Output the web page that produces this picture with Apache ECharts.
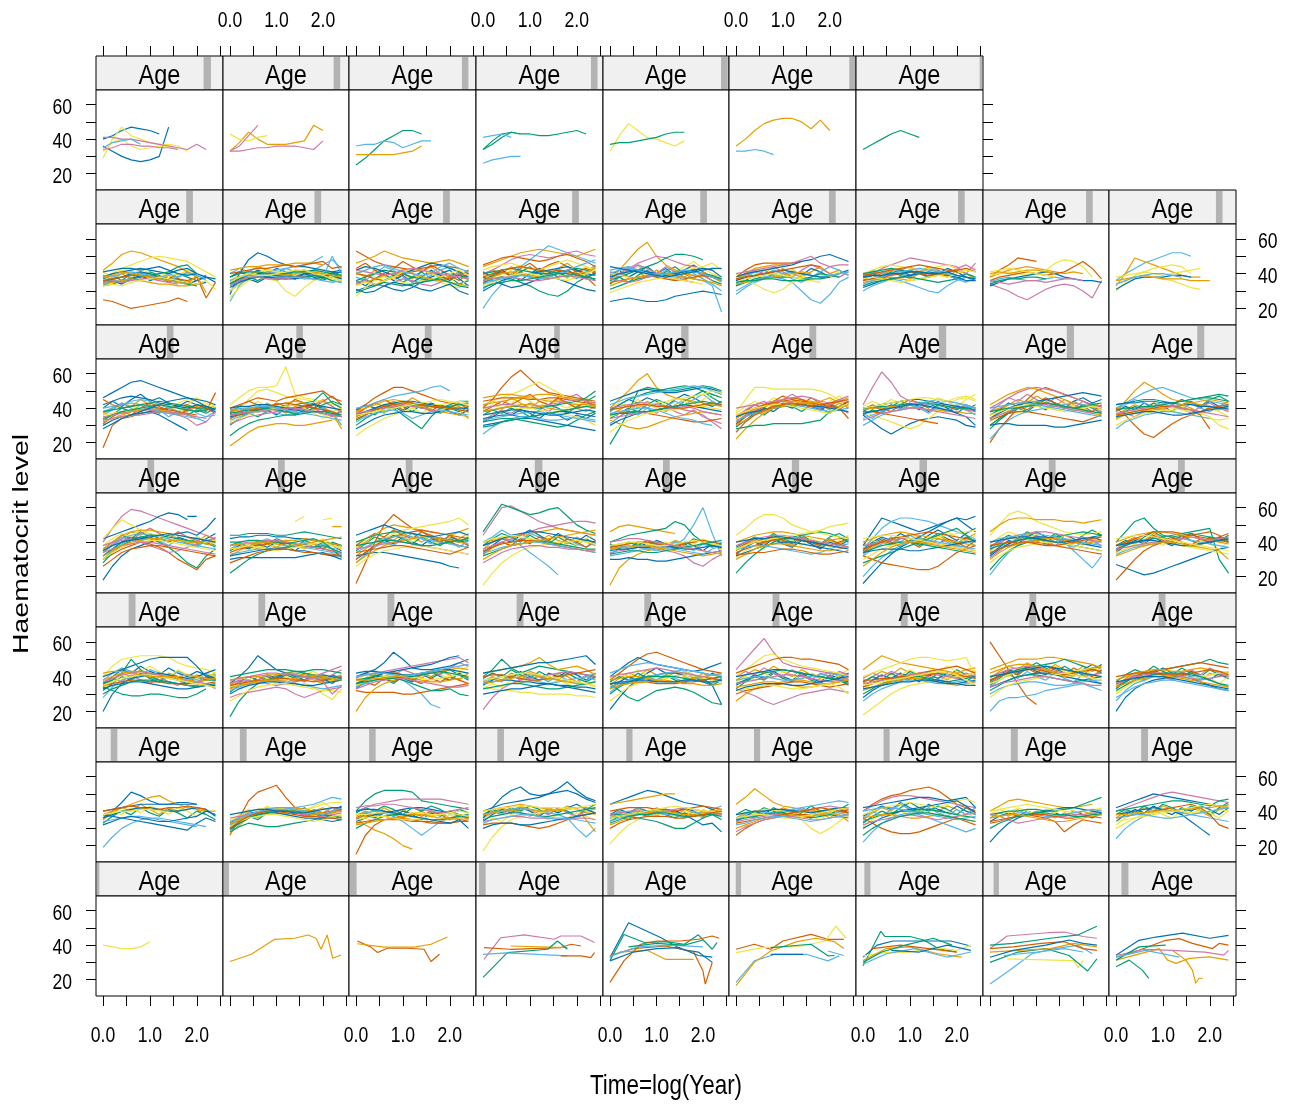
<!DOCTYPE html>
<html>
<head>
<meta charset="utf-8">
<title>Haematocrit level by log(Year), conditioned on Age</title>
<script src="https://cdn.jsdelivr.net/npm/echarts@6.0.0/dist/echarts.min.js"></script>
<style>
  html, body { margin: 0; padding: 0; background: #fff; }
  #chart { width: 1293px; height: 1106px; }
</style>
</head>
<body>
<div id="chart"></div>
<script>
// line strings: colour letter + first slot on the 0.2 time grid, then the values;
// 'c@' strings give explicit time:value pairs instead
const timeStep = 0.2;
const xTicks = [0, 0.5, 1, 1.5, 2, 2.5];
const xLabels = [0, 1, 2];
const yTicks = [20, 30, 40, 50, 60];
const yLabels = [20, 40, 60];
const colours = { b: '#0072B2', o: '#E69F00', g: '#009E73', y: '#F0E442', s: '#56B4E9', r: '#D55E00', p: '#CC79A7' };

// Age shingle level of each panel, in % of the age range (rows top to bottom)
const ageRow1 = [[84.7, 90.5], [87.8, 93], [88.9, 94], [90.5, 95.7], [93.7, 99], [94.7, 100], [97.4, 100]];
const ageRow2 = [[71, 76.3], [72.6, 77.9], [74.1, 79.4], [75.7, 81], [77.2, 82.5], [78.7, 84], [80.3, 85.6], [81.8, 87.1], [84.2, 89.4]];
const ageRow3 = [[55.8, 61], [58.2, 63.4], [59.7, 65], [61.6, 66], [62, 67.9], [63.3, 68.7], [65.2, 71], [66.5, 72.2], [69.5, 75]];
const ageRow4 = [[40.5, 45.8], [43.7, 49], [44.7, 50], [46.3, 52.3], [47.6, 53], [49.5, 55.2], [50, 55.9], [52.2, 57.6], [54.3, 59.7]];
const ageRow5 = [[25.7, 31.1], [28.1, 33.5], [30.3, 35.7], [32, 37.4], [32.8, 38.2], [34.3, 39.7], [35.3, 40.7], [36.8, 42.2], [39.1, 44.5]];
const ageRow6 = [[11.6, 16.8], [13.4, 18.7], [15.8, 21], [16.8, 22], [18.5, 23.4], [19.7, 24.5], [21.7, 26.5], [22.1, 27.6], [25.3, 30.7]];
const ageRow7 = [[0, 2.6], [0.2, 4.7], [0.8, 6], [2.4, 7.6], [3.4, 8.9], [5.3, 9.5], [6.6, 11.4], [8.4, 12.6], [9.8, 15.3]];

const row1 = [
  ['b0 40 42 45 47 46 45 43', 'b0 36 33 30 28 27 28 30 47', 'y0 29 40 47 42 40 38 37 37 36 33',
   'y0 33 38 40 36 34 35 36 36 34', 'p0 41 41 40 40 39 38 37 36 35 34 37 34', 'p0 34 35 37 37 36 36 35 35 34',
   's0 35 38 39 40 37'],
  ['o0 33 38 44 40 37 37 37 38 39 48 45', 'y0 43 40 39 41 42', 'p0 33 36 42 48', 'p0 33 33 34 35 35 36 36 36 35 34 39'],
  ['g0 25 29 34 39 42 45 45 43', 's0 36 37 37 39 38 35 37 39 39', 'o0 31 31 31 31 31 32 33 36'],
  ['g0 34 37 41 44 43 43 42 42 43 44 45 43', 'g0 34 39 43 44 43', 's0 41 42 43 41', 's0 26 28 29 30 30'],
  ['y0 33 42 49 45 41 40 38 36 39', 'g0 37 38 38 39 40 41 43 44 44'],
  ['o0 36 40 45 49 51 52 52 50 46 51 45', 's0 33 33 34 33 31'],
  ['g0 34 37 40 43 45 43 41']
];

const row2 = [
  ['o0 42 46 51 53 52 50 48 46 44 41 38', 'r0 25 24 22 20 21 22 23 24 26 24', 'y0 38 40 43 45 47 49 50 49 48 47 44 41 38',
   'b0 38 40 41 42 43 42 41 40 42 43 40 38 37', 'b0 36 37 38 40 41 40 38 37 36 35 34 35', 'g0 35 37 38 39 40 39 38 36 35 34 33',
   'g0 33 34 36 37 38 39 40 41 44 45 40', 'r0 36 37 38 39 39 38 38 37 37 36 38 26 35', 'o0 34 35 36 37 36 35 34 34 33 33 34',
   's0 39 38 40 41 40 39 37 36 38 40 39 37', 'p0 35 36 35 36 37 37 36 35 34', 'y0 33 34 33 35 36 37 38 37 36 35 34 36 31',
   'b0 41 42 43 43 42 43 44 42 40 39 40', 'o0 38 39 41 40 39 38 37 36 35 34 39 29'],
  ['b0 28 40 48 52 50 47 45 44 44 43 42 41 42', 's0 24 33 38 40 41 42 43 44 45 47 50', 's0 30 35 38 39 40 41 40 42 41 39 38 50 40',
   'y0 26 32 36 38 37 36 30 27 32 36 38 40 39', 'o0 42 43 44 44 45 45 45 46 46 46 45', 'r0 40 41 42 43 43 44 45 44 45 46 47 43 44',
   'b0 34 37 39 40 40 39 38 39 40 40 39 38 37', 'g0 35 36 37 38 38 37 37 38 38 39 38 36 35', 'y0 30 34 38 41 42 41 40 39 41 42 40 38 36',
   'b0 32 35 37 38 38 38 37 37 38 37 38 40 41', 'o0 36 38 40 41 40 40 39 40 41 41 40 39 38', 'p0 33 36 38 38 37 37 37 38 38 37',
   's0 36 38 39 39 39 38 38 38 37 37 36 35 36', 'g0 38 40 41 41 40 40 40 41 41 42 41 40 39', 'y0 35 38 40 39 39 40 41 42 42 40 39 37 36'],
  ['r0 53 50 47 45 44 43 42 43 44 45 44 43', 'o0 46 48 50 53 51 49 48 47 46 47 48 46 44', 'b0 30 32 34 33 31 30 32 35 38 40 42 37 33',
   's0 38 36 40 44 42 38 35 36 39 42 44 40 36', 'y0 27 32 36 38 37 35 34 36 37 35 33 32 38', 'g0 36 38 40 42 41 40 38 37 36 38 40 39 37',
   'p0 35 36 34 33 35 37 36 34 33 35 38 40 41', 'b0 42 44 43 41 39 40 42 44 46 45 43 41 40', 'r0 40 39 37 36 38 40 41 42 40 38 37 39 42',
   'o0 34 35 37 39 40 41 40 38 37 36 35 34 33', 'y0 33 35 34 36 38 41 43 42 40 38 40 42 39', 'b0 31 29 30 33 35 34 33 31 30 32 34 30 28',
   's0 40 42 44 45 43 41 40 39 40 44 46 43 41', 'g0 29 31 33 35 34 33 34 35 36 37 35 33 32', 'p0 42 41 40 39 40 42 43 42 41 40 39 38 37'],
  ['s0 20 28 34 40 44 48 52 56 54 52 50 48 46', 'o0 44 46 48 50 52 53 54 53 52 51 50 52 54', 'p0 40 42 45 48 50 51 50 49 50 52 53 51 50',
   'r0 45 47 49 50 49 48 47 48 50 51 49 47 44', 'g0 35 37 38 37 35 33 30 28 27 30 35 38 40', 'b0 38 36 34 32 33 35 37 38 37 35 33 31 30',
   'y0 42 44 45 46 44 43 42 44 46 48 46 44 42', 'g0 40 41 42 43 42 41 40 40 41 42 43 42 41', 'b0 30 33 36 38 39 40 41 42 43 44 42 40 39',
   'o0 36 38 40 41 40 39 38 37 38 39 40 41 43', 'y0 33 35 37 39 40 40 39 38 37 36 38 40 42', 's0 34 36 37 38 39 38 37 38 40 42 44 46 48',
   'r0 38 40 42 43 44 43 42 41 42 41 40 38 33', 'p0 36 37 38 38 37 36 36 37 38 39 38 37 36', 'g0 32 34 35 36 36 37 38 39 40 40 39 38 37'],
  ['b0 24 25 26 25 24 24 25 27 28 29 30 29 28', 'o0 36 42 48 54 58 50 45 42 40 39 38', 'p0 38 40 43 46 48 50 49 47 45 44 43 42',
   'g0 36 38 40 42 44 46 49 51 51 50 48', 's0 40 42 43 42 41 40 39 38 38 37 36 33 18', 'y0 40 39 38 37 38 39 40 41 42 43 44 46 42',
   'b0 38 40 41 42 41 40 39 40 41 42 43 42 38', 'r0 35 36 37 38 39 38 37 36 37 38 39 38 37', 'o0 33 35 37 38 39 40 40 39 38 37 36 35 33',
   'g0 31 33 35 37 38 39 40 41 42 41 40 39 37', 's0 42 43 44 42 40 39 40 41 42 41 40 38 36', 'p0 37 36 35 36 38 39 38 37 36 35',
   'y0 29 31 33 35 36 37 38 37 36 35 34', 'b0 44 43 42 41 40 39 38 39 40 41 42 43 43'],
  ['r0 38 42 45 46 46 46 46 47', 'o0 36 40 43 44 45 45 46', 'b0 38 40 41 42 43 44 45 47 48 50 51 49 47',
   'p0 40 41 42 43 44 45 46 48 50 46 44 45 45', 's0 28 32 35 37 38 37 35 30 25 23 28 35 38', 'y0 38 36 34 31 29 31 35 37 36 35',
   'g0 33 35 37 38 38 38 38 37 38 40 39 38', 's0 30 33 36 38 39 40 41 40 39 38 39 40 41', 'b0 36 38 39 40 41 42 41 40 39 38 38',
   'o0 34 35 36 37 38 39 40 41 40', 'y0 35 37 38 39 40 39 38 37 36', 'g0 35 36 36 37 37 36 36 36 37 37 38',
   'r0 37 38 39 40 41 42 43 44 45 44'],
  ['p0 38 40 43 45 47 49 48 47 46 45 44 40 46', 'y0 40 42 44 45 44 43 42 43 44 45 43', 's0 30 33 35 37 36 34 32 30 29 33 36 38',
   'b0 32 34 36 37 38 39 40 41 40 39 38 36 36', 'g0 40 41 42 43 42 41 41 40 40 39', 'r0 36 37 38 39 40 41 40 39 40 41 42 43 41',
   'o0 35 36 37 38 37 36 37 38 39 40 39', 's0 34 36 38 40 41 42 43 42 41 40 39 38', 'y0 37 38 37 36 35 36 37 38 39 38 40 42 41',
   'b0 38 39 39 40 40 41 41 40 40 41 39 38 37', 'g0 33 35 36 37 38 38 37 36 35 36 37', 'r0 39 40 41 42 43 44 45 44 43 42 41'],
  ['r0 38 42 45 49 48 47', 'o0 38 40 42 43 44 43 42 41 40 41 40', 'y0 39 40 41 40 39 40 42 46 48 47 44 38',
   'r0 36 38 39 40 41 40 39 40 41 44 47 43 37', 'p0 34 32 30 27 25 28 31 33 34 33 30 26 36', 'b0 33 35 37 38 39 40 41 40 38 37 36 36 35',
   's0 35 37 38 37 36 36 37 38 37', 'p0 36 35 34 35 36 36 35 36 37 37 36', 'o0 40 41 40 41 42 42 41 40',
   'g0 34 36 37 37 38 38 37', 'y0 41 42 43 42 41 40 39 38'],
  ['s0 36 40 43 46 48 50 52 52 50', 'o0 33 40 49 47 45 43 41 39 38 38', 'y0 30 35 39 41 43 44 45 44 40',
   'b0 31 34 37 38 38 38 39 39 38', 'y0 34 36 38 39 38 37 36 34 32 31', 'o0 36 37 38 39 38 37 37 37 36 36 36',
   'y0 38 39 40 41 40 39 40 41 42 43', 's0 34 36 38 39 40 40 39 38']
];

const row3 = [
  ['b0 46 49 52 55 56 54 52 50 48 46 45 44 42', 'r0 17 30 34 35 37 38 39 40 41 42 40 38 49', 'b0 42 44 46 47 46 45 43 42 41 40 42 41 40',
   's0 38 40 42 44 45 44 42 40 38 36 34 32', 'r0 45 42 40 41 42 41 40 39 38 37 36', 'y0 36 37 38 39 40 41 42 41 43 45 44 42 40',
   'g0 34 36 38 39 40 41 42 41 40 39 38 39 40', 'p0 35 36 37 38 39 39 38 37 36 34 30 32 38', 'b0 30 33 35 36 37 38 36 33 30 27',
   'o0 32 34 36 38 39 40 39 38 37 36 35', 's0 40 41 42 43 42 40 38 37 36 35 34 35 36', 'g0 38 39 40 41 42 43 44 43 42 41 40 40',
   'p0 33 34 35 36 36 37 38 38 37 36 35 34', 'b0 28 31 34 36 38 40 42 44 45 46 44 41 39'],
  ['y0 42 46 50 52 52 53 64 48 46 45 44 43', 'y0 36 40 45 50 51 49 47 46 45 44 43 42 41', 'o0 18 22 26 29 30 31 31 30 30 31 32 33',
   'r0 40 42 44 46 45 44 46 47 48 49 50 46 44', 'g0 36 37 38 39 40 40 41 42 43 44 49 43 40', 'b0 35 36 37 38 39 40 40 39 38 38 37 36 35',
   's0 33 35 37 38 38 37 36 37 38 39 40 38 30', 'p0 31 33 35 36 37 38 38 39 40 42 44 41 37', 'o0 38 39 40 40 41 42 43 44 43 42 41 37 28',
   'g0 37 38 39 39 40 39 38 37 38 40 42 44 42', 'y0 32 34 36 38 39 40 41 42 40 37 34 38 40', 'b0 40 41 41 42 42 41 40 40 41 42 41 40 39',
   'r0 34 36 38 40 41 42 43 42 41 40 39 38 36', 's0 39 40 40 41 41 40 39 38 37 36 35 34 33', 'p0 36 37 38 38 39 39 40 40 39 38 37 36 35',
   'g0 24 28 31 33 34 35 36 36 37 38 38 37 36'],
  ['r0 38 42 46 49 52 52 50 48 46 44 43 42 41', 's0 40 41 43 45 47 48 49 50 52 53 50', 'g0 33 36 40 42 40 36 32 28 35 40 42 44 44',
   'y0 24 28 31 34 36 38 40 41 42 42 43 44 43', 'o0 38 40 42 44 45 44 43 42 41 40 40 39 34', 'b0 36 38 40 42 43 44 44 43 42 41 40 40 40',
   'o0 35 37 39 41 42 43 42 41 39 38 37 36 35', 'g0 30 34 37 39 40 41 42 42 41 40 41 42 43', 's0 32 35 37 38 39 37 34 36 38 39 38 37 36',
   'p0 37 38 39 40 41 42 41 40 39 38', 'r0 34 36 39 41 42 43 43 42 41 41 40 39 38', 'b0 28 31 34 36 37 38 38 37 37 38',
   'y0 36 37 38 39 40 41 42 43 44 45 44 43 42'],
  ['r0 40 45 52 58 62 57 52 49 48 47 46 45 44', 'y0 42 44 46 48 50 53 55 52 49 46 44 42 40', 'o0 46 47 48 48 47 47 48 48 47 46 45 44 43',
   'r0 44 45 46 46 46 45 45 46 46 45 44 43 42', 'o0 42 43 44 45 46 46 45 44 44 43 42 42 41', 'g0 38 39 40 41 41 40 40 41 42 43 44 46 50',
   'b0 34 35 36 36 35 35 36 37 38 38 37 36 35', 's0 25 29 32 34 35 35 34 33 33 34 35 34 33', 'g0 32 33 34 34 33 32 31 30 29 30 33 36 38',
   'b0 30 31 32 33 34 34 33 32 31 30 29 28 27', 'p0 40 41 42 42 41 40 41 42 43 44 45 44 43', 'y0 36 37 38 39 40 40 39 38 37 36 35 33 30',
   's0 33 34 35 36 37 38 38 37 36 35 34 33 32', 'o0 38 39 40 41 42 42 41 40 39 39 40 41 42', 'g0 29 30 32 33 34 35 36 37 38 39 40 41 40',
   'b0 36 37 38 39 39 38 37 36 36 37 38 39 38'],
  ['o0 40 45 50 56 60 52 48 46 45 44 43 42 41', 'g0 19 28 38 50 52 51 50 50 51 52 53 52 50', 'g0 38 42 45 47 49 50 51 52 53 52 50 48 46',
   'b0 44 46 48 50 51 50 49 49 50 51 52 51 49', 's0 42 44 46 47 48 49 50 51 52 53 52 50 48', 'p0 40 41 42 43 43 42 41 40 39 38 36 32 28',
   'o0 33 31 29 28 29 31 33 35 36 37 38 37 36', 'y0 35 37 39 41 42 43 44 45 46 47 48 50 49', 'r0 36 37 38 38 37 36 35 34 33 32 32 33 34',
   'b0 30 33 35 37 38 39 40 41 42 41 40 39 38', 's0 37 38 39 40 40 39 37 35 34 33 31 30', 'p0 34 35 36 37 38 38 39 40 41 40 38 37 36',
   'g0 36 37 37 38 38 39 40 41 42 43 44 43 42', 'y0 26 30 33 35 37 38 39 39 40 41 41 40 39', 'r0 39 40 41 42 42 41 41 40 40 41 42 43 42'],
  ['y0 38 45 52 52 51 51 51 51 51 50 48 45', 'o0 22 28 33 37 40 42 44 45 44 43 42 44 46', 'r0 30 35 38 41 43 45 46 45 43 40 42 44 43',
   'p0 32 36 39 42 44 45 46 47 46 44 43 45 44', 'g0 28 29 30 30 31 31 31 31 32 33 38 39', 'o0 34 37 40 42 43 44 44 43 42 41 40 41 42',
   'r0 36 38 40 42 43 44 45 44 43 42 41 40 34', 'p0 40 41 42 43 44 44 43 42 41 40 42 45 47', 's0 33 35 37 39 40 41 42 41 40 39 38 39 40',
   'b0 35 37 38 39 40 41 42 42 41 41 40 39 38', 'o0 30 33 36 38 40 41 42 43 43 44 46 43 40', 'y0 36 38 40 41 42 42 41 40 39 38 37 40 43',
   'r0 26 32 36 39 41 42 43 42 41 42 43 44 45'],
  ['p0 42 52 61 55 47 44 43 42 42 41 40 39 38', 'b0 36 32 28 25 28 31 33 34 35 34 33 30 29', 'y0 38 36 34 32 30 28 30 34 38 42 45 46 44',
   'b0 40 41 42 43 44 45 45 44 43 42 41 40 39', 'g0 40 40 41 41 42 42 43 43 42 41 40 40 39', 's0 34 36 38 40 41 42 43 44 45 44 43 42 40',
   'r0 38 38 37 36 35 34 33 32 31', 'o0 39 40 40 41 41 40 40 39 39 38 38 37 37', 's0 30 33 36 38 39 40 41 42 43 44 43 41 40',
   'y0 40 41 42 43 44 45 46 46 45 44 46 47 45', 'b0 37 38 39 40 41 42 42 41 40 39 37 35 30', 'p0 33 35 37 38 39 40 40 39 38 37 36 35 34'],
  ['r0 20 28 34 40 45 50 52 50 48 46 44 42 40', 'p0 38 42 46 49 51 52 51 50 48 46 44 42 41', 'o0 42 45 48 50 52 51 49 47 45 43 42 41 40',
   'b0 34 37 40 42 43 44 45 46 47 48 49 48 47', 'g0 30 34 37 40 42 43 43 42 41 40 41 42 43', 's0 22 28 33 36 38 39 40 41 42 43 42 41 40',
   'y0 36 38 40 41 42 41 40 39 38 39 40 41 40', 'r0 33 35 37 38 38 37 36 35 34 33 32 34 36', 'b0 30 31 31 30 30 30 30 29 29 30 31 32 33',
   'o0 38 40 42 43 44 44 43 42 41 40 39 37 36', 'p0 34 36 38 40 41 42 42 41 40 39 38 37 38', 'g0 38 39 40 40 41 42 43 42 41 40 39 38 37',
   's0 40 41 42 43 43 42 41 40 39 38 37 36 35'],
  ['o0 38 44 50 55 52 48 45 44 43 42 41 40 39', 's0 40 43 46 49 51 52 50 48 46 45 44 43 42', 'r0 40 36 30 25 23 27 31 34 36 38 40 41 42',
   'y0 36 37 38 39 40 41 40 39 38 37 35 30 28', 'g0 42 43 44 45 45 44 43 44 45 46 47 48 47', 'b0 42 43 43 44 44 43 43 42 42 41 41 40 40',
   'y0 30 33 35 37 38 39 38 37 36 35 34 33 34', 'o0 34 36 37 38 39 40 41 42 43 44 45 44 43', 'r0 36 37 38 39 40 41 41 40 39 36 28',
   'p0 37 38 39 40 41 42 41 40 39 38 37 36 35', 's0 28 32 34 36 37 38 38 37 36 35 34', 'g0 39 40 40 41 41 42 43 44 45 46 46 45 44',
   'b0 35 36 37 38 38 37 36 36 37 38 39 40 41']
];

const row4 = [
  ['p0 40 48 55 59 58 56 54 52 50 48 46 44 42', 'b0 42 44 46 48 50 52 55 57 56 53', 'b0 18 26 32 36 38 40 42 44 45 46 44 48 54',
   'y0 42 48 53 50 47 45 44 42 41 40 39 40 41', 'r0 30 33 36 38 40 39 37 34 30 27 24 30 32', 'g0 32 36 40 42 43 42 40 37 33 28 25 32 36',
   'o0 36 40 44 46 47 47 46 45 44 43 42 41 40', 's0 34 38 42 44 45 44 43 42 40 39 38 37 36', 'p0 38 40 41 42 40 38 36 34 35 37 39 41 42',
   'g0 28 34 38 41 43 44 44 43 42 41 40 39 38', 'b0 35 38 40 41 42 43 44 45 44 43 42 41 40', 'r0 26 30 34 36 37 38 38 37 36 35 34 33 32',
   'y0 30 34 37 39 40 41 41 40 39 38 37 36 35', 'p0 34 36 38 39 40 40 39 38 37 36 35 34 33', 'o0 32 35 38 40 41 42 42 41 41 40 40 39 38',
   'b9 55 55'],
  ['g0 44 44 45 45 45 44 44 45 46 45 44 43 42', 'b0 42 43 43 44 44 43 43 42 42 41 40 39 38', 'r0 34 36 37 38 39 40 40 39 38 37 36 35 33',
   'o0 36 37 38 39 40 40 41 41 42 41 40 39 38', 'b0 30 31 31 31 31 31 31 31 32 33 34 32 30', 's0 33 34 35 36 36 37 37 38 37 36 35 34 33',
   'g0 22 26 30 33 35 36 37 38 38 37 38 36 31', 'p0 38 39 40 40 41 41 40 39 38 37 36 35 34', 'y0 36 37 38 37 36 35 36 37 38 39 40 38 36',
   'b0 32 33 34 35 36 36 36 35 35 34 33 32 32', 'g0 40 40 41 41 40 40 39 40 41 42 40 36 34', 'o0 38 39 39 40 40 39 38 38 39 40 41 42 43',
   'y7 52 55', 'y10 53 54', 'o11 49 49', 'r0 28 30 32 34 35 36 36 35 34 34 33 33 32'],
  ['r0 16 28 40 50 56 52 48 46 44 42 40 38 37', 'o0 36 40 44 48 50 49 48 47 46 45 44 46 48', 'y0 40 42 44 45 46 47 48 49 50 51 52 54 50',
   'b0 32 33 34 34 33 32 31 30 29 28 26 25', 'r0 30 34 38 41 43 45 46 47 46 45 44 43 42', 'g0 40 42 44 45 46 46 45 44 43 42 41 40 41',
   's0 34 37 40 42 43 44 43 42 41 40 39 38 37', 'p0 36 37 38 39 40 40 39 38 37 36 35 34 33', 'o0 28 32 35 38 40 41 42 43 43 42 41 40 39',
   'b0 44 46 48 50 48 46 45 44 43 44 45 46 44', 'y0 26 30 33 35 36 37 38 38 37 36 35 34 33', 'g0 38 39 40 41 41 40 39 38 38 39 40 41 42',
   'r0 34 35 36 37 38 38 37 36 35 34 33 35 37'],
  ['p0 44 52 60 61 58 55 52 50 48 47 46 45 44', 'g0 46 54 62 60 58 56 57 59 60 55 50 47 45', 'y0 15 22 28 32 35 37 38 39 40 40 41 40 39',
   's0 38 40 42 41 38 34 30 26 21', 'o0 40 41 42 43 44 45 46 47 48 47 46 45 44', 'p0 36 38 40 42 44 46 48 49 50 51 52 52 51',
   'b0 38 40 42 44 45 46 46 45 44 43 42 41 40', 'r0 35 37 39 40 41 41 40 39 38 37 36 35 34', 'y0 40 42 43 44 43 42 41 40 39 38 37 36 35',
   'g0 32 34 36 38 39 40 41 40 39 38 37 36 36', 's0 34 35 37 38 39 40 40 39 38 37 36 35 34', 'o0 30 33 36 38 39 40 41 42 43 44 45 46 47',
   'p0 28 31 34 36 37 38 38 37 37 36 36 35 35'],
  ['o0 46 49 50 49 48 47 46 45', 's0 36 37 38 37 36 35 36 38 42 50 60 45 32', 'g0 40 42 44 45 46 47 48 52 50 44 40 38 37',
   'p0 34 35 36 37 37 36 35 34 32 28 26 30 33', 'o0 15 25 30 33 35 36 37 38 37 36 35 34 33', 'b0 30 30 31 30 30 29 29 30 31 32 33 34 35',
   's0 32 33 34 35 36 37 37 36 35 34 33 36 38', 'r0 37 38 39 40 40 39 38 38 39 40 41 40 39', 'b0 35 36 36 37 37 38 38 37 36 36 37 38 37',
   'y0 38 39 40 40 39 38 38 39 40 41 40 39 38', 'g0 33 34 35 35 34 34 35 36 37 38 39 40 41', 'p0 40 41 42 42 41 40 39 38 37 36 35 34 35',
   'o0 36 37 37 38 38 37 36 35 34 33 32 33 34'],
  ['y0 44 48 53 56 56 54 50 48 46 47 49 50 51', 'o0 40 42 44 45 46 46 45 44 43 42 41 42 43', 'r0 34 36 38 40 41 42 42 41 40 39 38 40 42',
   'g0 22 28 33 37 40 42 43 44 45 46 45 43 40', 'b0 32 34 36 38 39 40 40 39 38 37 36 35 34', 's0 36 37 38 38 37 36 35 34 33 34 36 38 39',
   'p0 38 40 42 43 44 44 43 42 41 40 39 38 37', 'o0 30 33 36 38 39 39 38 37 36 35 35 36 37', 'r0 33 33 34 34 35 36 36 35 34 33 33 34 35',
   'y0 36 38 40 41 42 43 44 45 46 45 44 43 42', 'b0 40 41 42 42 43 43 42 41 40 39 38 37 36'],
  ['b0 38 46 54 52 50 48 46 48 50 52 54 50 46', 's0 36 42 48 52 54 54 53 52 50 48 46 44 42', 'b0 16 22 28 33 37 40 43 46 49 52 54 53 55',
   'r0 32 30 28 27 26 25 24 24 26 30 34 36 38', 'o0 40 42 44 45 46 45 44 43 42 41 40 39 38', 'g0 34 36 38 39 40 40 39 38 37 36 35 34 33',
   'y0 30 33 36 38 39 40 41 42 43 44 45 46 47', 's0 20 26 31 35 38 40 42 41 40 39 38 37 36', 'p0 38 39 40 41 42 42 41 40 39 38 37 36 35',
   'r0 36 38 40 42 43 44 45 46 45 44 43 42 41', 'g0 28 30 32 34 36 38 40 42 44 46 48 44 40', 'y0 42 43 44 44 43 42 41 40 39 38 37 36 35',
   'b0 34 35 36 36 36 35 35 36 37 38 39 40 41', 'o0 26 30 34 37 39 40 40 39 38 37 36 35 34'],
  ['y0 44 50 56 58 56 52 50 48 46 45 44 45 46', 'o0 46 50 53 54 54 53 53 53 52 52 51 52 53', 's0 21 28 34 38 40 42 43 42 40 35 30 25 32',
   'g0 24 30 35 38 40 41 42 43 44 45 46 45 44', 'b0 32 36 39 41 42 43 43 42 41 40 39 38 37', 'p0 38 40 42 44 45 46 46 45 44 43 42 41 40',
   'r0 34 36 38 39 40 40 39 38 37 36 35 34 33', 's0 40 42 43 44 45 45 44 43 42 41 40 39 38', 'o0 30 34 37 39 40 41 42 42 41 40 39 40 41',
   'g0 36 38 40 41 42 42 41 40 39 38 37 36 35', 'y0 28 32 35 37 38 39 40 40 39 38 37 36 35', 'b0 40 41 42 43 43 42 41 40 40 41 42 43 44',
   'r0 38 39 40 40 40 39 38 38 39 40 41 42 43'],
  ['g0 40 46 52 54 48 44 43 44 45 44 43 42 40', 'b0 27 25 23 21 22 24 26 28 30 32 34 36 37', 'r0 18 24 30 35 38 40 42 43 44 45 46 44 40',
   'g0 36 38 40 41 42 43 44 45 46 47 48 30 22', 'o0 40 42 44 45 46 46 45 44 43 42 41 40 39', 'r0 38 40 42 44 46 46 46 45 44 43 42 41 40',
   'y0 34 36 38 39 40 40 39 38 37 36 35 34 33', 's0 33 35 37 38 39 40 41 42 41 40 39 38 37', 'p0 36 37 38 39 40 40 41 42 43 42 41 42 43',
   'b0 38 39 40 41 41 40 39 38 38 39 40 41 42', 'o0 32 34 36 38 39 40 40 39 38 37 36 35 30', 'y0 42 43 44 44 43 42 41 40 39 38 37 36 35']
];

const row5 = [
  ['y0 40 46 50 51 52 52 52 51 48 46 45 44 42', 'b0 40 42 44 46 48 50 51 51 51 51 46 40 38', 'b0 20 30 36 39 40 41 42 41 40 39 40 42 44',
   'g0 36 38 42 50 44 40 38 37 36 35 34 35 36', 'g0 34 32 30 29 29 30 30 29 28 28 30 33', 's0 28 34 38 40 41 41 40 39 38 37 36 35 34',
   'o0 38 40 42 43 43 42 41 40 40 41 40 39 38', 'r0 35 36 37 38 38 37 37 36 36 35 35 36 37', 'p0 37 39 41 42 43 42 41 40 39 38 37 36 33',
   'b0 33 35 36 37 37 36 35 34 33 33 34 35 35', 'g0 30 33 35 37 38 38 37 37 36 36 37 38 38', 'y0 35 37 39 40 41 41 40 39 38 37 36 35 34',
   'o0 42 43 43 42 41 40 40 40 39 38 37 38 39'],
  ['b0 36 40 45 52 48 44 42 41 40 40 41 40 39', 'g0 17 26 32 36 38 40 42 43 43 44 44 43 42', 'p0 36 38 38 37 36 35 36 37 38 40 42 44 46',
   'y0 34 36 37 38 38 37 36 35 36 34 30 27 33', 'o0 38 39 40 40 41 41 42 42 41 40 39 38 38', 's0 32 34 36 37 38 38 37 36 35 34 33 34 35',
   'p0 28 30 31 32 33 34 33 30 28 30 32 33 34', 'r0 35 36 37 38 38 39 39 38 38 37 38 39 40', 'b0 30 33 35 36 37 37 36 36 35 35 36 37 38',
   'g0 40 41 42 43 44 44 44 43 42 41 40 39 38', 'y0 26 29 32 34 35 36 36 35 34 33 32 32 31', 'o0 33 35 36 37 38 38 38 39 40 41 40 39 38',
   'p0 38 39 40 41 42 42 41 41 40 39 37 30 35'],
  ['b0 40 42 44 48 54 50 45 44 44 45 46 48 50', 'p0 40 41 42 43 44 45 46 47 48 49 50 51 48', 'b0 36 38 40 42 43 44 45 46 47 49 51 52',
   's0 34 36 38 39 40 38 34 30 24 22', 'r0 32 31 31 31 31 30 30 31 32 33 34 35 36', 'o0 20 28 33 36 38 39 40 41 42 43 44 45 44',
   'g0 38 39 40 40 39 38 36 34 32 32 33 30 29', 'y0 35 37 39 40 41 41 40 39 38 39 40 41 42', 'b0 42 43 43 42 42 41 41 42 43 44 44 43 42',
   'p0 33 35 37 38 39 39 38 37 36 35 34 34 35', 'g0 36 37 38 39 39 40 40 41 42 43 42 41 40', 's0 40 41 42 42 41 40 41 42 43 44 45 46 47',
   'o0 38 38 39 39 40 40 39 38 37 37 38 39 40'],
  ['g0 40 44 50 45 42 44 46 45 44 43 42 41 40', 'o0 42 43 44 45 46 48 51 47 44 45 46 44 41', 'b0 42 43 44 45 46 47 48 48 49 50 51 52 47',
   'p0 21 28 33 36 38 39 40 41 42 43 42 41 40', 'y0 34 33 32 32 31 31 30 30 30 30 29 29 28', 's0 38 39 40 40 39 38 37 36 37 38 39 40 38',
   'b0 36 37 38 38 37 37 36 36 35 35 34 34 33', 'r0 40 41 41 40 39 38 38 39 40 41 42 43 44', 'o0 36 37 38 39 40 41 40 39 38 37 36 36 37',
   'g0 33 34 35 36 36 35 34 33 33 34 35 36 37', 'y0 38 39 40 41 42 42 41 40 39 38 37 36 35', 'b0 30 31 32 33 33 34 35 36 35 34 33 32 31'],
  ['r0 38 42 46 50 53 54 52 50 48 46 44 43 42', 'b0 40 44 48 51 49 47 46 45 44 43 44 46 48', 'g0 36 32 28 26 29 32 33 34 33 31 28 25 24',
   'b0 21 28 34 38 40 41 42 42 41 40 39 35 24', 'y0 26 30 34 36 37 38 39 40 41 40 39 38 37', 'o0 38 39 40 40 39 38 37 37 38 39 40 41 42',
   's0 34 36 38 39 40 41 42 43 44 43 42 41 40', 'p0 40 41 42 43 44 45 44 43 42 41 40 39 38', 'g0 30 34 37 39 40 40 40 40 39 38 38 39 40',
   'r0 36 36 36 37 37 36 36 36 37 37 38 39 38', 's0 42 44 46 47 48 47 46 45 44 43 42 41 41', 'o0 33 35 36 37 37 38 38 37 36 36 35 35 36',
   'b0 36 37 37 38 38 37 37 37 38 38 37 37 38'],
  ['p0 44 50 56 62 54 48 46 45 44 43 42 42 41', 'y0 40 44 48 52 53 50 48 46 45 44 43 42 40', 'r0 42 44 46 48 50 51 51 50 50 49 48 47 44',
   'p0 33 31 29 26 24 26 28 30 31 32 33 32 31', 'o0 26 30 33 35 36 37 38 38 37 36 36 37 38', 'b0 40 41 42 43 44 44 43 42 41 40 39 38 37',
   'g0 36 38 40 42 43 44 43 42 41 40 39 38 36', 'r0 30 32 33 34 35 36 37 37 36 35 34 35 36', 's0 38 39 40 40 39 38 38 39 40 41 42 41 40',
   'o0 34 35 36 37 37 36 35 34 34 35 36 37 38', 'y0 32 33 34 35 35 34 33 33 34 35 36 34 30', 'p0 36 37 38 39 40 41 41 40 39 38 37 38 39',
   'b0 32 34 35 36 36 36 35 35 36 37 38 39 40'],
  ['o0 44 48 52 50 48 47 46 45 44 43 42 44 45', 'y0 40 42 44 46 48 50 51 51 50 49 50 51 40', 'y0 18 22 26 30 33 35 36 37 38 39 40 41 42',
   'r0 34 36 38 39 40 41 42 43 44 45 46 44 42', 'g0 30 33 36 38 39 40 40 39 38 37 38 39 40', 'b0 28 32 35 37 38 39 39 38 38 37 36 37 38',
   'p0 36 37 38 39 40 41 42 42 41 40 39 40 41', 'o0 32 34 36 37 38 39 39 38 37 36 35 36 37', 's0 26 30 33 35 37 38 38 37 36 36 37 38 37',
   'r0 38 38 39 39 40 40 41 41 42 42 41 40 39', 'y0 35 36 37 38 39 40 41 42 43 42 41 38 35', 'b0 33 34 35 36 37 37 38 38 37 36 36 35 35'],
  ['r0 60 52 44 36 28 24', 'o0 44 46 48 50 50 50 51 51 50 49 48 47 45', 's0 20 26 28 28 29 30 32 33 34 35 36 34 32',
   'g0 38 40 42 44 45 46 47 48 50 48 46 44 47', 'y0 36 38 41 43 44 45 44 43 42 43 44 45 44', 'b0 34 36 38 40 41 42 42 41 40 39 38 37 36',
   'p0 40 42 44 45 46 45 44 43 42 41 40 41 42', 'r0 38 40 42 43 44 44 43 42 41 42 43 44 43', 's0 30 33 35 36 37 37 36 35 35 36 37 38 38',
   'o0 42 44 46 47 47 46 44 42 40 41 43 45 46', 'g0 32 35 38 40 41 41 40 39 38 37 38 39 40', 'y0 28 32 35 37 38 39 40 41 42 41 40 39 38',
   'b0 40 41 42 43 44 45 46 45 44 43 42 41 40', 'p0 34 36 37 38 39 40 40 39 38 37 36 35 35'],
  ['g0 34 37 40 42 43 44 45 46 47 48 50 48 47', 'r0 36 38 40 42 43 44 45 46 47 48 47 46 45', 'b0 20 28 33 36 38 39 40 40 39 37 35 33 32',
   's0 26 32 36 38 40 41 42 41 40 39 38 36 34', 'o0 38 40 42 43 44 44 43 43 44 45 44 43 42', 'y0 30 34 37 39 40 41 41 40 39 40 41 42 43',
   'p0 36 38 40 41 42 42 41 40 39 38 39 40 41', 'g0 32 35 38 40 41 42 42 42 41 40 38 36 35', 'o0 34 36 38 39 40 40 40 39 38 37 36 35 34',
   's0 28 31 34 36 37 38 38 37 36 35 34 33 32', 'r0 40 41 42 42 42 41 41 41 42 43 44 43 41', 'b0 37 38 39 40 40 40 39 38 37 36 35 34 33']
];

const row6 = [
  ['b0 36 40 45 51 49 46 44 44 45 45 44', 'o0 38 40 42 44 46 48 49 46 44 42 41 40 40', 'b0 40 41 42 43 44 44 44 44 44 44 44',
   'b0 38 37 36 35 34 33 32 31 30 29 33 36 34', 's0 19 25 30 33 35 36 36 35 34 33 32 31', 'b0 36 38 40 41 42 42 41 40 40 41 42 41 37',
   'r0 40 41 42 43 42 41 41 42 42 43 42 41', 's0 34 35 36 37 37 36 35 34 33 32 31', 'b0 32 34 36 37 36 35 34 34 35 36 37 40 38',
   'y0 38 39 40 40 41 41 40 40'],
  ['r0 26 36 46 51 53 55 48 42 41 40 39 40 41', 'o0 27 32 36 38 40 41 42 42 41 40 39 38 37', 'g0 28 31 33 32 31 31 32 33 34 35 36 36 35',
   's0 32 35 37 38 39 40 41 42 43 44 46 48 47', 'y0 34 37 40 41 42 42 41 40 41 42 44 45 45', 'b0 30 33 36 38 39 39 38 37 36 36 35 34 35',
   'o0 33 35 37 39 40 41 41 40 39 38 38 39 40', 'p0 36 37 38 39 40 40 40 39 38 37 37 38 39', 'g0 29 33 36 38 39 40 40 40 40 39 38 37 36',
   'y0 31 34 36 37 38 38 37 36 35 34 35 37 38', 'r0 30 34 37 39 40 40 39 38 37 37 36 36 35', 's0 34 36 38 40 41 42 42 41 40 39 38 40 42',
   'b0 38 39 40 41 41 40 40 39 39 40 41 42 42'],
  ['g0 40 46 50 52 52 52 51 46 45 44 43 42 41', 'p0 40 42 44 45 46 47 47 47 47 47 46 45 44', 'o0 36 32 29 27 24 20 18',
   'r0 15 26 32 35 36 36 35 34 34 33 33 34 35', 's0 38 39 40 39 37 34 30 26 30 34 36 37 38', 'o0 36 37 37 37 36 36 35 35 35 35 35 36 37',
   'b0 34 36 38 39 40 41 42 42 41 40 39 38 36', 'y0 38 38 39 39 38 38 39 39 38 38 39 40 39', 'p0 42 43 43 44 44 43 42 41 40 39 40 41 42',
   'g0 30 33 35 37 38 38 37 36 35 35 36 37 38', 'r0 33 34 35 35 35 35 34 34 33 33 33 34 34', 'y0 35 36 37 37 36 35 35 36 37 38 39 38 37',
   'o0 32 33 34 35 36 37 38 38 37 36 36 35 36', 'b0 40 41 41 40 39 38 37 36 35 34 33 35 30'],
  ['b0 36 42 48 52 54 50 49 50 51 52 50 47 45', 'b0 40 42 44 45 46 47 48 50 53 57 52 48 46', 'o0 40 41 42 43 44 43 42 41 40 41 42 35 28',
   's0 38 39 40 41 42 41 40 39 38 36 30 25 30', 'y0 17 25 31 35 37 38 39 40 41 42 41 40 38', 'r0 32 33 33 33 32 31 30 31 33 35 37 38 39',
   'o0 38 39 40 40 41 41 40 40 41 41 42 42 41', 'g0 35 37 38 39 39 38 37 37 38 39 40 41 42', 'p0 34 35 36 37 37 36 36 36 35 35 36 36 35',
   'y0 40 41 42 42 43 43 42 42 42 41 42 43 44', 'b0 30 32 33 33 32 32 33 34 35 36 37 38 39', 's0 33 35 36 37 38 38 37 36 36 36 35 34 33'],
  ['b0 44 46 48 50 52 51 49 47 45 44 43 41 38', 'o0 44 45 46 47 48 49 50 50', 'y0 21 27 32 35 37 38 39 39 38 38 39 40 39',
   'g0 38 38 37 36 35 34 32 30 30 33 36 38 39', 'b0 36 37 38 39 40 41 41 40 38 35 32 33 28', 'r0 40 41 42 42 42 41 41 40 41 42 43 42 41',
   's0 34 36 37 38 39 39 38 38 37 37 38 39 40', 'p0 38 39 40 40 39 39 40 41 42 41 40 39 38', 'o0 32 34 36 38 39 40 40 39 38 38 39 40 41',
   'y0 36 37 38 39 40 41 42 43 42 41 40 40 39', 'g0 33 35 37 38 38 39 39 38 37 37 38 38 37', 'r0 30 33 35 36 37 37 37 36 36 37 38 39 40'],
  ['o0 44 48 53 49 45 43 42 41 40 40 41 42 41', 'r0 26 30 33 35 36 37 38 38 38 39 40 41 40', 'y0 38 39 40 41 41 40 38 35 30 27 30 34 38',
   's0 36 37 38 39 39 40 41 42 43 44 45 46 45', 'b0 38 39 40 40 41 41 40 40 39 40 41 42 42', 'p0 34 35 36 37 38 38 39 40 41 42 43 42 41',
   'g0 35 36 37 38 39 39 38 37 36 37 38 37 36', 'o0 30 32 34 36 37 38 38 37 37 38 39 38 34', 'r0 33 34 35 36 37 38 39 40 41 42 41 40 39',
   'y0 36 37 38 38 37 36 36 37 38 39 40 41 42', 'p0 28 31 33 35 36 37 37 36 35 35 36 37 38', 's0 32 33 35 36 37 37 36 35 34 35 36 37 38'],
  ['r0 40 44 47 49 50 52 53 54 52 48 44 42 40', 'p0 40 43 46 48 49 49 48 47 46 45 44 43 42', 'b0 42 43 44 45 46 47 48 48 47 46 47 48 42',
   'r0 36 33 30 28 27 27 28 30 32 34 36 34 32', 's0 22 28 33 36 38 39 38 36 34 32 30 28 30', 'y0 38 40 42 43 44 45 44 43 42 44 46 47 45',
   'g0 34 36 38 39 40 40 41 41 40 39 38 37 36', 'b0 30 33 36 38 40 41 42 43 44 45 46 43 39', 'o0 36 37 38 38 37 36 36 37 38 37 36 35 34',
   's0 40 41 42 42 41 40 39 38 37 36 35 36 37', 'p0 32 34 35 36 37 38 37 36 35 36 37 38 39', 'g0 26 30 33 35 37 38 39 39 38 37 36 35 34'],
  ['o0 40 43 46 47 46 45 44 43 42 42 43 44', 'g0 38 39 40 40 41 41 40 40 41 42 44 46 48', 'b0 22 28 33 36 38 39 40 41 42 42 41 40 39',
   'r0 34 35 36 37 38 37 36 34 28 32 35 34 33', 'y0 40 41 42 43 44 43 42 41 40 39 40 41 41', 's0 36 37 38 39 39 38 37 37 38 39 40 41 40',
   'p0 38 37 35 33 34 35 36 37 37 38 38 39 38', 'r0 33 34 36 37 38 38 38 37 36 36 37 37 36', 'g0 30 33 35 37 38 39 39 38 38 37 37 38 38',
   'o0 36 37 38 38 37 36 35 34 34 35 36 37 38'],
  ['b0 42 44 46 48 50 49 48 47 46 45 44 43 42', 'p0 40 42 44 46 48 50 51 50 49 48 47 46 45', 's0 24 30 34 37 39 40 40 39 38 37 36 35 34',
   'b0 38 39 40 41 42 41 40 38 34 30 26', 'r0 36 37 38 39 40 41 42 43 44 42 38 32 30', 'g0 40 41 42 43 44 45 46 46 45 44 43 46 47',
   'y0 34 35 36 37 38 39 40 41 42 43 44 43 42', 'o0 38 38 39 39 40 40 40 41 41 42 42 43 43', 'y0 30 33 36 38 39 40 40 40 39 39 40 41 40',
   's0 36 37 38 38 37 36 36 37 38 39 40 41 42']
];

// further subjects in the crowded middle rows (drawn underneath the ones above)
const row2More = [
  ['g0 37 39 36 40 38 41 39 37 40 38 36 39', 's0 34 37 35 38 36 39 37 40 38 41 39 36', 'o0 39 36 40 37 41 38 36 39 37 35 38',
   'b0 33 36 34 37 39 36 38 35 37 34 36 38 35', 'y0 41 38 42 39 43 40 38 41 39 42 40'],
  ['b0 38 41 39 42 40 43 41 39 42 40 38 41 39', 'y0 36 39 37 40 43 41 38 40 37 39 42 40 38', 'g0 33 36 38 36 39 37 40 38 41 39 37 40 38',
   's0 40 43 41 44 42 40 43 41 38 42 45 48 43', 'o0 35 38 36 39 41 38 40 37 39 41 38 36 39', 'b0 30 34 37 35 38 36 39 37 40 38 36 39 37'],
  ['o0 41 38 42 39 36 40 37 41 44 40 38 41 39', 'g0 34 37 33 36 39 35 38 41 37 35 38 34 36', 'y0 39 42 38 35 39 43 40 37 41 38 35 39 37',
   'b0 36 33 37 40 36 39 35 38 42 39 36 40 38', 'r0 43 46 42 39 43 47 44 41 45 42 39 36 40'],
  ['o0 39 42 40 44 41 38 42 39 43 46 42 40 44', 'b0 41 38 42 39 36 40 43 41 38 42 39 37 41', 'y0 37 40 38 42 45 41 38 42 40 37 41 44 40',
   'g0 36 39 42 38 41 44 40 37 41 38 42 39 36', 's0 31 35 38 36 40 38 41 39 43 40 37 41 45', 'r0 34 38 41 39 43 46 42 45 47 44 41 43 40'],
  ['b0 39 42 38 41 44 40 43 39 42 45 41 38 36', 'y0 42 38 41 44 39 42 38 41 44 47 43 40 38', 'o0 37 40 44 41 38 42 39 36 40 37 41 38 35',
   'g0 34 38 35 39 42 38 41 44 40 43 39 36 34', 's0 36 39 42 45 41 38 42 39 36 40 37 34 30', 'p0 41 38 42 45 43 40 44 41 38 42 39 36'],
  ['o0 37 40 38 42 39 43 40 38 41 44 40 42 39', 'b0 33 36 39 37 40 38 42 39 43 41 38 40 42', 'p0 36 39 42 40 44 41 38 42 45 43 40 38 41',
   'y0 40 37 41 43 40 38 42 39 36 40 38 41', 's0 34 38 41 39 42 40 37 35 38 41 44 42 39'],
  ['o0 38 41 39 42 40 37 40 43 41 38 42 40 37', 'b0 36 39 37 40 42 39 41 38 40 43 41 38 36', 'p0 40 37 41 39 42 44 41 38 42 40 43 45 42',
   'g0 37 40 38 41 39 42 40 38 41 39 37 40 38', 's0 39 42 40 43 41 38 41 44 42 39 37 35 38'],
  [],
  []
];

const row3More = [
  ['o0 37 40 43 41 45 42 39 43 40 38 41 39 42', 'g0 33 36 40 38 42 39 37 41 38 36 39 37 40', 's0 36 39 43 40 38 42 39 35 38 41 37 35 38',
   'b0 40 44 41 45 48 44 46 43 41 44 42 40 38', 'y0 34 37 35 39 42 40 43 41 38 42 46 43 41', 'r0 31 35 38 36 40 43 41 38 36 39 42 40 37'],
  ['o0 35 38 41 39 43 40 37 41 39 42 45 41 38', 'g0 30 34 37 35 38 41 39 36 39 42 40 37 35', 'b0 37 40 38 41 39 36 40 38 41 43 39 36 38',
   'y0 39 42 40 44 41 38 42 45 43 39 36 34 31', 'p0 34 37 40 38 42 39 41 38 42 40 37 35 38', 'r0 38 41 44 42 40 43 41 45 43 40 44 47 42'],
  ['o0 37 40 43 41 44 42 46 43 40 42 39 41 38', 'g0 35 38 36 40 43 41 38 42 39 37 40 38 41', 'b0 39 42 40 37 41 38 42 40 43 41 38 36 39',
   'y0 33 36 39 37 41 44 40 37 41 38 42 40 37', 'r0 36 40 43 45 42 39 43 41 38 42 40 43 39'],
  ['o0 41 44 42 46 43 40 44 42 45 43 40 38 41', 'b0 32 35 38 36 39 37 34 38 36 33 36 34 37', 'y0 39 42 40 43 47 44 41 45 42 40 43 46 42',
   'g0 36 39 37 40 38 35 39 42 40 37 41 44 47', 'r0 38 41 44 42 45 48 44 42 46 43 40 44 41', 'p0 33 36 39 37 40 43 41 38 42 46 48 44 40'],
  ['o0 36 39 42 40 44 41 38 42 45 43 40 44 41', 'b0 39 42 45 43 46 44 41 45 48 46 43 41 44', 'g0 34 37 40 38 42 45 43 40 44 47 50 46 43',
   's0 31 35 38 36 40 43 41 44 42 45 48 44 41', 'y0 40 43 41 45 42 40 43 46 44 41 45 48 46', 'p0 37 35 39 42 40 37 41 38 36 39 35 33 31'],
  ['o0 32 36 40 38 42 45 43 41 44 42 39 43 41', 'y0 37 41 44 42 46 44 41 45 43 40 44 47 43', 'r0 34 38 42 40 44 47 45 42 46 43 41 39 43',
   'g0 31 35 38 36 40 43 41 38 42 40 37 41 44', 'p0 35 39 42 44 41 45 48 45 42 39 43 40 37', 'b0 29 33 37 40 38 42 40 43 41 39 42 40 44'],
  ['b0 38 41 39 42 40 43 41 38 42 40 37 41 38', 'g0 36 39 37 41 44 42 39 43 40 38 41 39 42', 'y0 41 44 42 45 43 40 44 42 46 44 41 45 48',
   's0 37 34 38 41 39 42 40 37 41 38 42 39 36', 'r0 39 42 40 38 42 45 43 40 44 41 39 42 40'],
  ['o0 34 38 42 45 43 47 44 41 45 42 40 43 41', 'b0 36 39 43 41 44 42 45 43 40 44 46 43 45', 'g0 28 33 37 40 38 42 39 43 41 38 42 40 37',
   'p0 40 43 46 44 48 45 42 46 43 40 44 41 38', 'y0 32 36 39 37 41 44 42 39 43 41 38 42 39', 'r0 30 34 38 41 39 43 46 43 40 44 41 38 42'],
  ['o0 36 39 42 40 43 41 38 42 40 37 41 39 42', 'b0 38 41 39 43 40 38 42 45 43 40 44 41 39', 'g0 35 38 41 39 43 40 38 42 44 41 45 47 44',
   'y0 33 37 35 39 42 40 38 41 39 36 40 38 35', 's0 39 42 45 43 41 44 42 39 43 40 38 41 44', 'p0 34 37 35 38 41 39 42 40 37 41 43 40 38']
];

const row4More = [
  ['o0 34 38 42 46 44 48 45 42 46 43 40 44 41', 'g0 36 40 44 42 46 43 41 45 42 39 43 40 37', 's0 30 35 39 42 40 44 41 38 42 40 37 41 38',
   'b0 32 36 40 43 41 45 42 40 43 41 38 42 45', 'y0 38 42 45 43 47 44 41 45 42 40 43 41 39', 'p0 35 39 43 41 45 48 45 42 46 43 41 39 43'],
  ['g0 38 40 37 41 39 42 40 37 41 39 36 40 38', 'b0 35 38 36 39 37 40 38 35 39 37 40 38 35', 'o0 32 35 38 36 39 37 40 38 36 39 37 34 37',
   's0 36 39 37 40 42 39 41 38 40 37 39 36 38', 'y0 34 37 35 38 36 39 41 38 36 40 42 39 37'],
  ['o0 32 36 40 43 41 45 43 40 44 41 39 42 45', 'g0 35 39 43 41 44 42 39 43 40 38 42 40 43', 'b0 30 34 38 41 39 43 40 38 42 40 43 41 38',
   'y0 37 41 38 42 45 43 40 44 41 39 43 46 43', 's0 28 33 37 40 38 42 45 42 39 43 40 37 41', 'r0 38 42 45 43 47 44 42 46 43 40 44 41 38'],
  ['o0 36 40 43 41 45 42 40 44 41 39 43 40 38', 'b0 34 38 42 40 44 47 44 41 45 42 40 44 41', 'g0 38 42 45 43 40 44 41 39 43 40 38 42 39',
   'y0 32 36 40 38 42 45 43 40 44 41 38 42 45', 's0 40 43 47 44 41 45 43 40 38 42 39 37 40', 'r0 33 37 40 38 42 39 43 41 38 42 40 37 41'],
  ['b0 37 39 36 40 38 41 39 36 40 38 35 39 37', 'o0 35 38 36 39 37 40 38 41 39 36 40 38 36', 'g0 39 36 40 38 41 39 37 40 38 42 40 37 39',
   's0 33 36 34 38 36 39 37 40 38 35 39 37 40', 'y0 36 39 37 35 39 37 40 38 36 39 42 39 37'],
  ['o0 35 38 41 39 43 40 38 42 40 37 41 39 42', 'b0 33 37 40 38 42 39 37 41 39 36 40 38 41', 'g0 37 40 43 41 45 42 40 44 41 39 43 45 42',
   'y0 31 35 38 36 40 43 41 38 42 40 37 41 44', 'r0 36 39 42 40 44 41 39 43 40 38 42 39 37'],
  ['o0 33 37 40 38 42 45 43 40 44 41 38 42 45', 'b0 36 40 43 41 45 42 40 44 47 44 41 45 48', 'g0 35 39 42 40 37 41 38 42 45 42 39 43 40',
   'y0 38 41 39 43 40 44 42 39 43 46 43 40 44', 's0 32 36 39 43 40 44 41 38 42 40 37 41 38', 'r0 34 38 41 39 43 40 37 41 39 42 40 37 41'],
  ['o0 35 39 43 41 45 42 40 44 41 39 43 40 44', 'b0 33 37 41 39 43 46 43 40 44 42 39 43 41', 'g0 37 41 44 42 46 43 41 45 42 40 44 47 44',
   'y0 39 43 46 44 41 45 42 40 44 41 38 42 40', 'p0 31 35 39 42 40 44 41 38 42 40 43 41 38', 's0 36 40 37 41 44 41 38 42 39 37 40 38 41'],
  ['o0 36 40 43 41 45 42 40 44 41 38 42 40 43', 'b0 34 38 41 39 43 40 38 42 45 42 39 43 41', 'g0 38 41 39 43 46 43 40 44 41 39 43 41 44',
   'y0 32 36 39 37 41 38 42 40 37 41 39 36 40', 'r0 35 39 42 40 44 41 43 40 38 42 40 43 45']
];

const row5More = [
  ['o0 34 38 42 40 44 41 38 42 40 37 41 39 42', 'b0 36 40 44 42 46 43 41 45 42 40 43 41 39', 'g0 32 36 40 38 42 39 37 41 38 36 40 38 41',
   's0 38 42 45 43 41 44 42 39 43 41 38 42 40', 'y0 33 37 41 39 43 46 43 40 44 41 39 42 40', 'p0 35 39 37 41 38 36 40 37 35 39 37 40 38'],
  ['o0 35 38 36 40 38 41 39 37 40 38 36 39 41', 'b0 33 37 40 38 41 39 42 40 38 41 39 36 40', 'g0 31 35 38 36 40 38 41 39 42 40 37 41 39',
   'y0 37 40 38 41 39 36 40 38 41 43 40 37 39', 'p0 34 37 35 38 41 38 36 39 37 40 38 41 44'],
  ['o0 36 39 42 40 43 41 38 42 40 43 41 38 42', 'b0 33 37 40 38 42 39 37 41 43 40 38 42 39', 'g0 35 38 41 39 36 40 38 41 39 42 44 41 38',
   'y0 38 41 39 43 40 38 42 40 44 41 39 43 46', 'p0 39 42 40 43 41 44 42 39 43 41 45 48 46', 'r0 34 37 35 39 37 40 38 36 39 37 40 38 36'],
  ['o0 37 40 38 42 40 43 41 38 42 40 37 41 39', 'b0 35 38 41 39 43 40 38 42 40 43 41 38 42', 'g0 39 42 40 44 41 39 43 40 38 42 39 37 40',
   'y0 33 36 34 38 36 39 37 35 38 36 33 36 34', 's0 36 39 37 41 38 42 40 37 41 38 36 40 42'],
  ['o0 35 39 42 40 44 41 39 43 40 38 42 39 37', 'b0 33 37 40 38 42 45 42 40 43 41 38 42 39', 'g0 37 40 38 42 39 37 41 38 36 40 37 35 38',
   'y0 39 42 40 44 41 38 42 40 43 41 38 41 39', 's0 31 35 38 36 40 38 41 39 37 40 38 36 39'],
  ['o0 38 41 44 42 46 43 40 44 41 39 43 40 38', 'b0 35 38 41 39 43 40 38 42 39 37 41 39 42', 'g0 33 37 40 38 42 39 37 41 38 36 40 38 35',
   'y0 37 40 38 42 39 43 41 38 42 40 37 41 44', 'p0 40 43 41 45 42 40 44 41 38 42 40 43 41'],
  ['o0 36 40 43 41 45 42 40 43 41 38 42 40 43', 'b0 34 38 41 39 42 40 37 41 39 42 40 37 41', 'g0 37 40 38 42 39 43 41 38 42 40 44 41 39',
   'y0 32 36 39 37 41 44 41 39 43 46 43 40 44', 'p0 39 42 40 43 41 38 42 40 37 41 39 42 40'],
  ['o0 39 43 46 44 48 45 43 47 44 42 46 43 47', 'b0 37 41 44 42 46 43 41 45 42 40 44 47 44', 'g0 35 39 43 41 45 48 45 42 46 43 41 45 42',
   'y0 38 42 40 44 47 44 42 46 43 40 44 41 39', 'r0 36 40 43 41 45 42 46 44 41 45 42 40 44', 's0 34 38 41 39 43 40 38 42 39 37 41 38 36'],
  ['o0 35 39 42 40 44 41 39 43 40 38 42 40 43', 'b0 33 37 40 38 42 45 42 40 43 41 38 42 39', 'g0 37 41 44 42 46 43 41 45 42 40 44 41 39',
   'y0 31 35 39 37 41 38 42 40 37 41 39 36 40', 'p0 34 38 41 39 43 40 38 42 44 41 45 42 40']
];

const row6More = [
  ['o0 35 39 42 40 44 41 38 42 40 43 41 38', 'g0 33 37 40 38 42 39 37 41 39 36 40 38 35', 'y0 37 40 38 42 39 43 41 38 42 40 37 41'],
  ['o0 31 35 38 36 40 42 39 41 38 40 42 39 41', 'b0 33 37 40 38 42 39 41 38 42 39 37 40 43', 'g0 30 34 37 35 39 41 38 40 37 39 36 38 36',
   'y0 35 38 41 39 43 40 38 42 40 43 45 42 40', 'p0 32 36 39 37 41 39 42 40 37 41 39 42 40'],
  ['o0 37 40 38 42 39 41 38 40 37 39 36 38 36', 'b0 35 38 36 39 37 40 38 35 39 37 40 38 36', 'g0 39 42 40 43 41 38 42 40 43 41 38 41 39',
   'y0 33 36 34 37 35 38 36 39 37 35 38 36 34', 'r0 36 39 37 40 38 36 39 37 40 38 35 38 37'],
  ['o0 36 39 42 40 43 41 38 42 40 43 41 39 42', 'b0 34 38 41 39 42 40 37 41 39 42 44 41 39', 'g0 38 41 39 42 40 43 41 38 42 40 37 41 44',
   'y0 32 36 34 38 36 39 37 35 38 36 39 37 35', 'p0 37 40 38 41 39 37 40 38 42 39 37 40 38'],
  ['o0 36 39 37 41 38 42 40 37 41 39 36 40 38', 'b0 38 41 39 42 40 38 41 39 42 40 37 41 39', 'g0 34 37 35 39 37 40 38 36 39 37 40 38 35',
   'y0 35 38 36 40 38 41 39 37 40 38 41 39 37', 's0 37 40 38 42 39 37 41 38 36 40 38 41 43'],
  ['o0 36 39 37 41 38 42 40 37 41 39 36 40 38', 'b0 34 37 40 38 42 39 41 38 36 40 38 41 39', 'g0 38 41 39 42 40 38 41 39 43 40 38 41 44',
   'y0 33 36 39 37 41 38 36 40 37 35 39 36 40', 's0 35 38 36 40 37 41 39 42 40 37 41 39 37'],
  ['o0 35 39 42 40 44 41 38 42 40 43 41 38 42', 'b0 37 40 43 41 45 42 40 44 41 39 43 40 38', 'g0 33 37 40 38 42 45 42 40 43 41 38 42 39',
   'y0 31 35 38 36 40 38 41 39 37 40 38 36 39', 's0 36 40 37 41 44 41 39 42 39 37 41 38 42'],
  ['o0 36 39 37 41 38 40 38 36 39 37 40 38 41', 'b0 34 37 39 37 40 38 41 39 37 40 38 36 39', 'y0 38 41 39 42 40 38 41 39 42 40 37 40 42'],
  ['o0 36 40 38 42 39 43 41 38 42 40 37 41 44', 'b0 34 38 41 39 43 40 38 42 40 43 41 38 42', 'g0 38 41 39 43 40 44 42 39 43 41 38 42 45',
   'y0 32 36 39 37 41 38 36 40 38 41 39 36 40']
];

const row7 = [
  ['y0 40 39 38 38 39 42'],
  ['o@ 0:30.5 0.46:34.7 0.96:43.4 1.39:44 1.68:45.9 1.85:44 1.96:37.6 2.09:45.9 2.21:32.4 2.39:34.3'],
  ['r@ 0.03:42.4 0.31:39 0.46:35.7 0.67:38.2 1.1:38.2 1.45:37.6 1.6:30.5 1.78:34.7',
   'o@ 0.03:40.8 0.6:38.9 1.24:38.9 1.6:40.5 1.95:44.7'],
  ['p@ 0.02:31.8 0.38:44.3 0.88:45.9 1.52:43.4 1.66:45.3 2.09:45.3 2.38:41.5', 'r@ 0.02:38.6 0.59:37.6 1.66:38.6 1.88:40.5 2.09:39.5',
   'o@ 0.59:39.5 1.8:38.6', 'g@ 0:21.3 0.52:35.7 1.38:37.6 1.59:42.4 1.8:37.6', 's@ 0:34.6 0.5:35.5 1.8:33.8',
   'r@ 1.66:33.8 2.09:33.8 2.3:32.8 2.38:35.7'],
  ['b@ 0:32.8 0.4:53 1.1:44.3 1.53:37.6 1.9:36 2.2:30', 'g@ 0:31 0.3:46.2 0.74:41.5 1.2:42 1.6:40.5 1.9:46 2.2:37.6 2.3:41.5',
   'r@ 0:18.4 0.3:30.9 0.66:40.5 1:42.4 1.5:42.4 1.9:43.4 2.2:45.3 2.35:44', 'r@ 0:34 0.5:38 1.2:39.5 1.8:36 2:25 2.05:17.4 2.2:30',
   'o@ 0.2:36 0.8:37 1.2:31.7 1.8:31.7', 'b@ 0:30.9 0.5:36 1:38 1.5:38.5 1.9:34 2.2:33', 's@ 0:33.5 0.6:39 1.3:40 2:39',
   'g@ 0.4:39 1:41 1.6:40 2:43'],
  ['r@ 0:37.6 0.39:40.5 0.74:37.6 1:42.4 1.6:46.2 1.96:43.4 2.3:43.4', 's@ 0:18.4 0.39:30.9 0.83:34.7 1.5:34.7 1.96:30.9 2.2:33.8',
   'y@ 0:35.7 0.56:38.6 1.4:39.5 1.9:42.4 2.13:51 2.35:44', 'o@ 0:16.5 0.39:30 0.74:36.6 1.3:42 1.7:44 2.1:42 2.3:38',
   'g@ 0.74:38.6 1.6:40.5 1.96:33.8 2.1:34', 'b@ 0.74:34.7 1.43:34.7', 's@ 1.96:36.6 2.3:34'],
  ['g@ 0:28 0.38:48 0.47:45 1:45 1.3:43 1.6:38 2:36', 'b@ 0:33 0.3:40 0.64:42.4 1.34:42.4 1.87:42.4 2.3:39.5',
   'y@ 0:33.8 0.47:35.7 1:36 1.5:38.6 2:37 2.3:40', 'o@ 0:31 0.5:38 1:39 1.6:35 2.1:33', 's@ 0:29 0.5:35 1.1:38 1.8:33 2.3:36',
   'r@ 0.2:38 0.8:40 1.4:38 2:36', 'g@ 0:30 0.4:36 0.9:40 1.5:44 1.9:40', 'b@ 0.6:37 1.2:36 1.8:40 2.3:37'],
  ['p@ 0:38 0.37:45.3 1.24:47.2 1.6:47.6 2:45 2.3:44', 'g@ 0:40 0.5:41 1.3:44 1.9:46 2.3:51',
   's@ 0:17.4 0.4:25 0.9:35 1.4:38 1.9:40 2.2:35', 'y@ 0.37:32 1.8:31 1.9:27 2:31', 'g@ 0:30 0.6:36 1.2:38 1.7:34 2.1:25 2.3:32',
   'r@ 0:38 0.5:39 1.1:41 1.6:42 2:38 2.3:37', 'o@ 0:36 0.6:37 1.3:38 1.8:41 2.3:39', 'b@ 0:33 0.5:37 1.2:40 1.7:43 2:41 2.3:40',
   's@ 0.3:34 1:36 1.6:38 2:36'],
  ['b@ 0:34.2 0.49:42.8 0.85:44.7 1.42:47 2:44 2.4:45.7', 'r@ 0:33 0.49:37 1.06:42.8 1.35:43.8 1.63:41 2.06:38 2.2:41 2.4:40',
   'o@ 0:31.3 0.92:38 1.1:31.3 1.28:29.4 1.56:32.3 2:33.2 2.4:31.3', 'o@ 1.2:37 1.49:31.3 1.63:25.5 1.7:17.9 1.77:20.8 1.85:20.8',
   'g@ 0:27.5 0.28:31.3 0.56:25.5 0.7:20.7', 'p@ 0:34 0.6:37.6 1.2:37 1.9:36 2.3:34.2 2.4:37', 'g@ 0:31.3 0.49:39 1.06:40',
   's@ 0:33 0.63:37 1.35:33']
];

const extraRows = [[], row2More, row3More, row4More, row5More, row6More, []];
const rows = [row1, row2, row3, row4, row5, row6, row7]
    .map((row, r) => row.map((lines, c) => (extraRows[r][c] || []).concat(lines)));
const ageRows = [ageRow1, ageRow2, ageRow3, ageRow4, ageRow5, ageRow6, ageRow7];

// layout (px) and scales
const plotLeft = 96, colW = 126.67, plotTop = 56, rowH = 134.33, stripH = 34;
const xMin = -0.15, xMax = 2.56, yMin = 10.5, yMax = 68.5;
const textFont = '"Liberation Sans", Arial, sans-serif';
const squeeze = 0.8;   // the lettering in the reference is horizontally condensed

function parseLine(str) {
    const parts = str.split(' ');
    const head = parts[0];
    const colour = colours[head[0]];
    let pts;
    if (head[1] === '@') {
        pts = parts.slice(1).map(p => p.split(':').map(Number));
    } else {
        const s0 = Number(head.slice(1));
        pts = parts.slice(1).map((v, i) => [+((s0 + i) * timeStep).toFixed(2), Number(v)]);
    }
    return { colour, pts };
}

// axis that only draws ticks; labels come from tickLabels() so they can be condensed
function tickAxis(gi, pos, show, isX) {
    return {
        gridIndex: gi,
        type: 'value',
        position: pos,
        min: isX ? xMin : yMin,
        max: isX ? xMax : yMax,
        show: show,
        axisLine: { show: false, onZero: false },
        splitLine: { show: false },
        axisTick: { show: true, length: 10, customValues: isX ? xTicks : yTicks, lineStyle: { color: '#000', width: 1 } },
        axisLabel: { show: false }
    };
}

function labelText(x, y, text, align) {
    return { type: 'text', x, y, scaleX: squeeze,
             style: { text, fill: '#000', fontSize: 22, fontFamily: textFont, align, verticalAlign: 'middle' } };
}

// side: 'bottom' | 'top' | 'left' | 'right'
function tickLabels(xi, yi, side) {
    const isX = side === 'bottom' || side === 'top';
    return {
        type: 'custom', xAxisIndex: xi, yAxisIndex: yi, silent: true, clip: false,
        data: (isX ? xLabels : yLabels).map(v => [v]),
        renderItem: (params, api) => {
            const v = api.value(0);
            const cs = params.coordSys;
            if (side === 'bottom') {
                const p = api.coord([v, yMin]);
                return labelText(p[0], cs.y + cs.height + 40, v.toFixed(1), 'center');
            }
            if (side === 'top') {
                const p = api.coord([v, 0]);
                return labelText(p[0], cs.y - 35, v.toFixed(1), 'center');
            }
            const p = api.coord([xMin, v]);
            if (side === 'left') return labelText(cs.x - 24, p[1] + 3, String(v), 'right');
            return labelText(cs.x + cs.width + 22, p[1] + 3, String(v), 'left');
        }
    };
}

function stripItem(params, api) {
    const cs = params.coordSys;
    const a = api.coord([api.value(0), 1]);
    const b = api.coord([api.value(1), 0]);
    const x0 = Math.max(a[0], cs.x + 1);
    const x1 = Math.min(b[0], cs.x + cs.width - 1);
    const mid = api.coord([50, 0.5]);
    return {
        type: 'group',
        children: [
            { type: 'rect', shape: { x: x0, y: cs.y + 1, width: x1 - x0, height: cs.height - 2 }, style: { fill: '#b3b3b3' } },
            { type: 'text', x: mid[0], y: mid[1] + 3, scaleX: 0.84,
              style: { text: 'Age', fill: '#000', fontSize: 28, fontFamily: textFont, align: 'center', verticalAlign: 'middle' } }
        ]
    };
}

const grids = [], xAxes = [], yAxes = [], series = [];
const nRows = rows.length;

rows.forEach((panels, r) => {
    const sTop = Math.round(plotTop + r * rowH);
    const pTop = sTop + stripH;
    const pBot = Math.round(plotTop + (r + 1) * rowH);
    panels.forEach((lines, c) => {
        const left = Math.round(plotLeft + c * colW);
        const width = Math.round(plotLeft + (c + 1) * colW) - left;
        const last = c === panels.length - 1;

        // strip with the Age shingle bar
        const sg = grids.length;
        grids.push({ left, top: sTop, width, height: stripH, show: true, backgroundColor: '#f0f0f0',
                     borderColor: '#000', borderWidth: 1, outerBoundsMode: 'none' });
        xAxes.push({ gridIndex: sg, type: 'value', min: 0, max: 100, show: false });
        yAxes.push({ gridIndex: sg, type: 'value', min: 0, max: 1, show: false });
        const sx = xAxes.length - 1, sy = yAxes.length - 1;
        series.push({ type: 'custom', xAxisIndex: sx, yAxisIndex: sy, silent: true, clip: false,
                      data: [ageRows[r][c]], renderItem: stripItem });
        if (r === 0) {
            xAxes.push(tickAxis(sg, 'top', true, true));
            if (c % 2 === 1) series.push(tickLabels(xAxes.length - 1, sy, 'top'));
        }

        // panel
        const pg = grids.length;
        grids.push({ left, top: pTop, width, height: pBot - pTop, show: true, backgroundColor: '#fff',
                     borderColor: '#000', borderWidth: 1, outerBoundsMode: 'none' });
        xAxes.push(tickAxis(pg, 'bottom', r === nRows - 1, true));
        yAxes.push(tickAxis(pg, c === 0 ? 'left' : 'right', c === 0 || last, false));
        const px = xAxes.length - 1, py = yAxes.length - 1;

        lines.forEach(str => {
            const ln = parseLine(str);
            series.push({
                type: 'line', xAxisIndex: px, yAxisIndex: py, data: ln.pts,
                symbol: 'none', silent: true, clip: true,
                lineStyle: { color: ln.colour, width: 1.2 }, itemStyle: { color: ln.colour }
            });
        });

        if (r === nRows - 1 && c % 2 === 0) series.push(tickLabels(px, py, 'bottom'));
        if (r % 2 === 0 && c === 0) series.push(tickLabels(px, py, 'left'));
        if (r % 2 === 1 && last) series.push(tickLabels(px, py, 'right'));
    });
});

const chart = echarts.init(document.getElementById('chart'), null, { renderer: 'canvas' });
chart.setOption({
    animation: false,
    backgroundColor: '#fff',
    grid: grids,
    xAxis: xAxes,
    yAxis: yAxes,
    series: series,
    graphic: [
        { type: 'text', x: 666, y: 1086, scaleX: squeeze,
          style: { text: 'Time=log(Year)', fill: '#000', fontSize: 28, fontFamily: textFont, align: 'center', verticalAlign: 'middle' } },
        { type: 'text', x: 22, y: 544, rotation: Math.PI / 2, scaleY: squeeze,
          style: { text: 'Haematocrit level', fill: '#000', fontSize: 28.5, fontFamily: textFont, align: 'center', verticalAlign: 'middle' } }
    ]
});
</script>
</body>
</html>
